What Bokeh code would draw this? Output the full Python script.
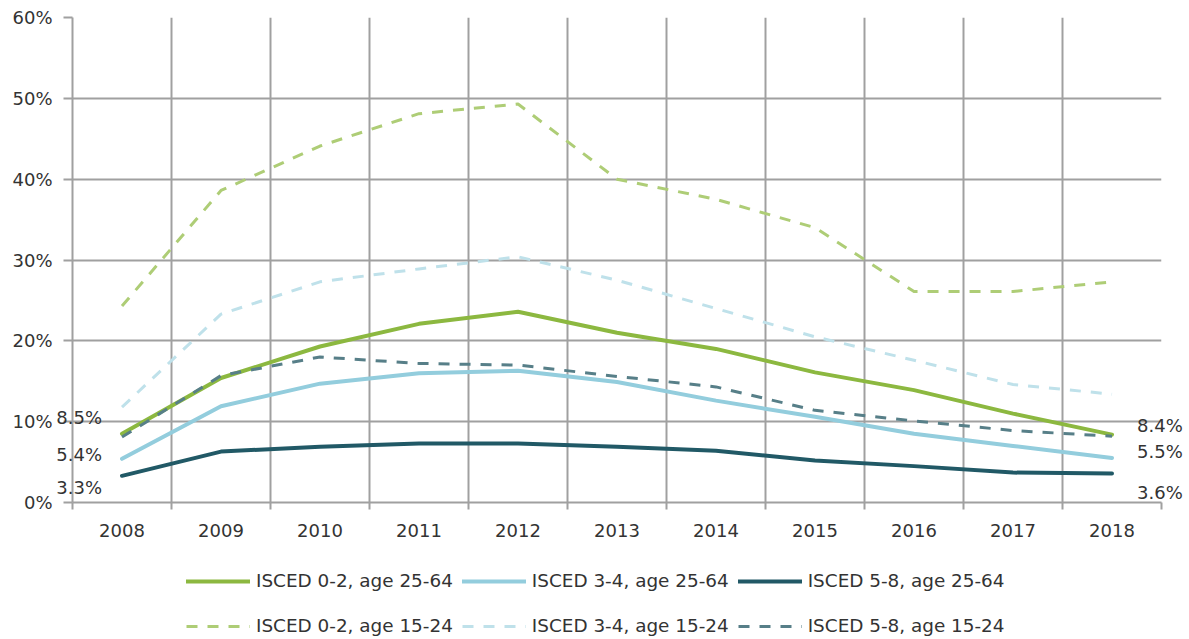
from bokeh.plotting import figure
from bokeh.layouts import column
from bokeh.models import (Range1d, FixedTicker, PrintfTickFormatter, Legend, LegendItem, ColumnDataSource)
from bokeh.core.properties import value
from bokeh.embed import file_html
from bokeh.resources import INLINE

years = [2008, 2009, 2010, 2011, 2012, 2013, 2014, 2015, 2016, 2017, 2018]

isced02_2564 = [8.5, 15.4, 19.3, 22.1, 23.6, 21.0, 19.0, 16.1, 13.9, 11.0, 8.4]
isced34_2564 = [5.4, 11.9, 14.7, 16.0, 16.3, 14.9, 12.6, 10.6, 8.5, 7.0, 5.5]
isced58_2564 = [3.3, 6.3, 6.9, 7.3, 7.3, 6.9, 6.4, 5.2, 4.5, 3.7, 3.6]
isced02_1524 = [24.3, 38.6, 44.1, 48.1, 49.3, 40.0, 37.5, 34.0, 26.1, 26.1, 27.3]
isced34_1524 = [11.8, 23.3, 27.3, 28.9, 30.4, 27.5, 24.0, 20.5, 17.6, 14.6, 13.4]
isced58_1524 = [8.1, 15.7, 18.0, 17.2, 17.0, 15.6, 14.3, 11.4, 10.1, 8.9, 8.2]

labels = ["ISCED 0-2, age 25-64", "ISCED 3-4, age 25-64", "ISCED 5-8, age 25-64",
          "ISCED 0-2, age 15-24", "ISCED 3-4, age 15-24", "ISCED 5-8, age 15-24"]
y_ticks = [0, 10, 20, 30, 40, 50, 60]

FONT = "DejaVu Sans"
FS = "18px"
TXT = "#333333"
GRID = "#a0a0a0"

GREEN = "#8cb840"
LBLUE = "#93cddd"
DTEAL = "#215966"
GREEN_D = "#aecd76"
LBLUE_D = "#bfe1ea"
DTEAL_D = "#577f88"

series_list = [isced02_2564, isced34_2564, isced58_2564, isced02_1524, isced34_1524, isced58_1524]
styles = [dict(line_color=GREEN, line_width=4, line_join="round", line_cap="round"),
          dict(line_color=LBLUE, line_width=4, line_join="round", line_cap="round"),
          dict(line_color=DTEAL, line_width=4, line_join="round", line_cap="round"),
          dict(line_color=GREEN_D, line_width=3, line_dash="11 10", line_join="round"),
          dict(line_color=LBLUE_D, line_width=3, line_dash="11 10", line_join="round"),
          dict(line_color=DTEAL_D, line_width=3, line_dash="11 10", line_join="round")]

p = figure(width=1185, height=550, output_backend="svg", toolbar_location=None,
           x_range=Range1d(years[0] - 0.5, years[-1] + 0.5), y_range=Range1d(y_ticks[0], y_ticks[-1]),
           min_border_left=72, min_border_right=24, min_border_top=17, min_border_bottom=48)
p.outline_line_color = None

boundaries = [y - 0.5 for y in years] + [years[-1] + 0.5]

xa = p.xaxis[0]
xa.ticker = FixedTicker(ticks=years, minor_ticks=boundaries)
xa.major_tick_line_color = None
xa.major_tick_out = 0
xa.major_tick_in = 0
xa.minor_tick_line_color = GRID
xa.minor_tick_line_width = 2
xa.minor_tick_out = 7
xa.minor_tick_in = 0
xa.axis_line_color = GRID
xa.axis_line_width = 2
xa.major_label_standoff = 14
xa.major_label_text_font = FONT
xa.major_label_text_font_size = FS
xa.major_label_text_color = TXT

ya = p.yaxis[0]
ya.ticker = FixedTicker(ticks=y_ticks)
ya.formatter = PrintfTickFormatter(format="%d%%")
ya.major_tick_line_color = GRID
ya.major_tick_line_width = 2
ya.major_tick_out = 9
ya.major_tick_in = 0
ya.minor_tick_line_color = None
ya.axis_line_color = GRID
ya.axis_line_width = 2
ya.major_label_standoff = 11
ya.major_label_text_font = FONT
ya.major_label_text_font_size = FS
ya.major_label_text_color = TXT

p.xgrid.grid_line_color = None
p.xgrid.minor_grid_line_color = GRID
p.xgrid.minor_grid_line_width = 2
p.ygrid.grid_line_color = GRID
p.ygrid.grid_line_width = 2

for s, st in zip(series_list, styles):
    p.line(years, s, **st)

# end-point data labels (solid series)
first_src = ColumnDataSource(dict(x=[years[0]] * 3, y=[s[0] for s in series_list[:3]],
                                  t=[f"{s[0]:.1f}%" for s in series_list[:3]], dy=[-16, -4, 12]))
last_src = ColumnDataSource(dict(x=[years[-1]] * 3, y=[s[-1] for s in series_list[:3]],
                                 t=[f"{s[-1]:.1f}%" for s in series_list[:3]], dy=[-9, -7, 19]))
p.text(x="x", y="y", text="t", y_offset="dy", x_offset=-20, source=first_src, level="overlay",
       text_align="right", text_baseline="middle", text_font=value(FONT),
       text_font_size=FS, text_color=TXT)
p.text(x="x", y="y", text="t", y_offset="dy", x_offset=25, source=last_src, level="overlay",
       text_align="left", text_baseline="middle", text_font=value(FONT),
       text_font_size=FS, text_color=TXT)

# legend figure
pl = figure(width=1185, height=86, output_backend="svg", toolbar_location=None,
            x_range=Range1d(0, 1), y_range=Range1d(0, 1), x_axis_location=None, y_axis_location=None,
            min_border_left=0, min_border_right=0, min_border_top=0, min_border_bottom=0)
pl.outline_line_color = None
pl.grid.visible = False
leg_r = [pl.line(years, s, **st) for s, st in zip(series_list, styles)]

def make_legend(idx, loc):
    return Legend(items=[LegendItem(label=labels[i], renderers=[leg_r[i]]) for i in idx],
                  location=loc, orientation="horizontal",
                  border_line_color=None, background_fill_alpha=0, padding=0, margin=0,
                  spacing=9, glyph_width=64, glyph_height=20, label_standoff=6,
                  label_text_font=FONT, label_text_font_size="18.4px", label_text_color=TXT)

pl.add_layout(make_legend([0, 1, 2], (114, 45)), "center")
pl.add_layout(make_legend([3, 4, 5], (114, 0)), "center")

layout = column(p, pl, spacing=0)
open("out.html", "w").write(file_html(layout, INLINE))
